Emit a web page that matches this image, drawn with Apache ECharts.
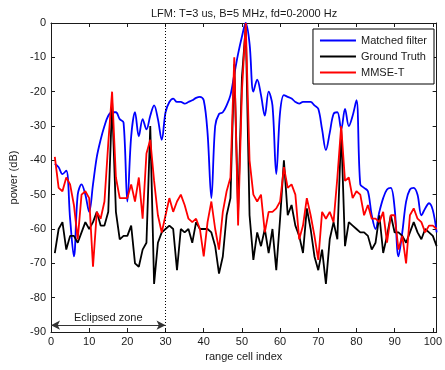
<!DOCTYPE html>
<html>
<head>
<meta charset="utf-8">
<script src="https://cdn.jsdelivr.net/npm/echarts@6/dist/echarts.min.js"></script>
<style>
  html, body { margin: 0; padding: 0; background: #fff; }
  #chart { width: 445px; height: 370px; }
</style>
</head>
<body>
<div id="chart"></div>
<script>
// range cell index 1..101, power in dB
const matchedFilter = [
  -41, -42, -44, -43, -57, -68, -50, -47, -50, -55,
  -47, -39, -34, -30, -27, -26, -26, -28, -29, -52,
  -33, -26, -33, -28, -31, -27, -24, -28, -34, -26,
  -23, -22, -23, -23, -23.5, -23, -22.5, -21.8, -21.5, -22.5,
  -32, -51, -30, -26.5, -26, -24, -21, -15, -9, -4,
  0, -6, -20, -16.5, -21, -27, -20, -24, -44, -26,
  -21, -21.5, -22, -23, -23.5, -23, -23, -23, -24, -25,
  -31, -37, -32, -26.5, -26, -31, -25, -30, -27, -22.5,
  -47, -48, -49, -56, -60, -55, -51, -48.5, -48, -54,
  -68, -61, -52, -48.5, -48, -50, -56, -54, -52.5, -54.5,
  -61
]
const groundTruth = [
  -67, -60, -58, -66, -62, -62, -64, -61, -58, -60,
  -58, -55, -59, -59, -55, -23, -55, -63, -62, -62,
  -59, -70, -71, -66, -64, -30, -76, -64, -61, -60,
  -59, -60, -72, -60, -61, -60, -64, -58, -60, -60,
  -60, -61, -65, -73, -68, -56, -51, -12, -55, -16,
  -1, -56, -69, -61, -65, -60, -67, -60, -72, -57,
  -40, -56, -53, -59, -62, -67, -54, -60, -68, -72,
  -66, -76, -63, -58, -63, -31, -65, -58, -59, -60,
  -61, -61, -62, -66, -64, -56, -67, -62, -56, -61,
  -61, -62, -64, -61, -58, -61, -63, -60, -61, -62,
  -65
]
const mmseT = [
  -39, -48, -49, -45, -47, -53, -63, -50, -49, -51,
  -71, -55, -57, -52, -35, -20, -45, -51, -51, -51,
  -47, -52, -45, -57, -38, -34, -46, -56, -61, -56,
  -51, -55, -52, -50, -53, -57, -58, -57, -60, -68,
  -58, -52, -60, -66, -55, -49, -45, -10, -59, -20,
  0, -40, -50, -52, -50, -61, -55, -55, -54, -52,
  -42, -48, -47, -50, -63, -59, -51, -56, -62, -69,
  -55, -57, -55, -58, -45, -30, -46, -45, -51, -49,
  -50, -56, -53, -57, -57, -58, -55, -64, -56, -56,
  -66, -62, -70, -56, -54, -57, -58, -61, -59, -59,
  -60
]
const seriesNames = ['Matched filter', 'Ground Truth', 'MMSE-T']
const eclipsedEnd = 30

const font = "'Liberation Sans', Arial, sans-serif"
const ink = '#1a1a1a'

function pairs(values) {
  return values.map((v, i) => [i + 1, v])
}

function lineSeries(name, values, color, smooth) {
  return {
    name,
    type: 'line',
    data: pairs(values),
    showSymbol: false,
    symbol: 'none',
    smooth: smooth || false,
    lineStyle: { width: 1.8, color },
    itemStyle: { color },
    animation: false
  }
}

const axisBase = {
  axisLine: { show: true, onZero: false, lineStyle: { color: ink, width: 1 } },
  axisTick: { show: true, inside: true, length: 4, lineStyle: { color: ink } },
  splitLine: { show: false }
}

const chart = echarts.init(document.getElementById('chart'), null, { renderer: 'canvas' })

const blue = lineSeries(seriesNames[0], matchedFilter, '#0000ff', 0.35)
blue.markLine = {
  silent: true,
  animation: false,
  symbol: 'none',
  label: { show: false },
  lineStyle: { type: [1, 2], color: '#000', width: 1 },
  data: [{ xAxis: eclipsedEnd }]
}
const black = lineSeries(seriesNames[1], groundTruth, '#000000')
black.markLine = {
  silent: true,
  animation: false,
  symbol: ['arrow', 'arrow'],
  symbolSize: [7, 9],
  lineStyle: { type: 'solid', color: '#333', width: 1.2 },
  label: {
    show: true,
    position: 'middle',
    formatter: 'Eclipsed zone',
    color: ink,
    fontFamily: font,
    fontSize: 11,
    distance: 2
  },
  data: [[{ coord: [0, -88] }, { coord: [eclipsedEnd, -88] }]]
}

chart.setOption({
  backgroundColor: '#fff',
  textStyle: { fontFamily: font },
  title: {
    text: 'LFM: T=3 us, B=5 MHz, fd=0-2000 Hz',
    left: 146,
    top: 3,
    textStyle: { fontFamily: font, fontSize: 11, fontWeight: 'normal', color: ink }
  },
  legend: {
    orient: 'vertical',
    right: 11,
    top: 29,
    padding: [6, 7, 6, 7],
    icon: 'rect',
    itemGap: 5,
    itemWidth: 36,
    itemHeight: 2,
    backgroundColor: '#fff',
    borderColor: '#000',
    borderWidth: 1,
    borderRadius: 0,
    textStyle: { fontFamily: font, fontSize: 11, color: ink },
    data: seriesNames
  },
  grid: { left: 51, right: 4, top: 23, bottom: 38, containLabel: false },
  xAxis: [
    Object.assign({}, axisBase, {
      type: 'value', min: 0, max: 101, interval: 10,
      name: 'range cell index', nameLocation: 'middle', nameGap: 18,
      nameTextStyle: { fontFamily: font, fontSize: 11, color: ink },
      axisLabel: { color: ink, fontSize: 11, margin: 4, showMaxLabel: false, fontFamily: font }
    }),
    Object.assign({}, axisBase, {
      type: 'value', min: 0, max: 101, interval: 10, position: 'top',
      axisLabel: { show: false }
    })
  ],
  yAxis: [
    Object.assign({}, axisBase, {
      type: 'value', min: -90, max: 0, interval: 10,
      name: 'power (dB)', nameLocation: 'middle', nameGap: 30,
      nameTextStyle: { fontFamily: font, fontSize: 11, color: ink },
      axisLabel: { color: ink, fontSize: 11, margin: 5, fontFamily: font }
    }),
    Object.assign({}, axisBase, {
      type: 'value', min: -90, max: 0, interval: 10, position: 'right',
      axisLabel: { show: false }
    })
  ],
  series: [
    blue,
    black,
    lineSeries(seriesNames[2], mmseT, '#ff0000')
  ]
})
</script>
</body>
</html>
